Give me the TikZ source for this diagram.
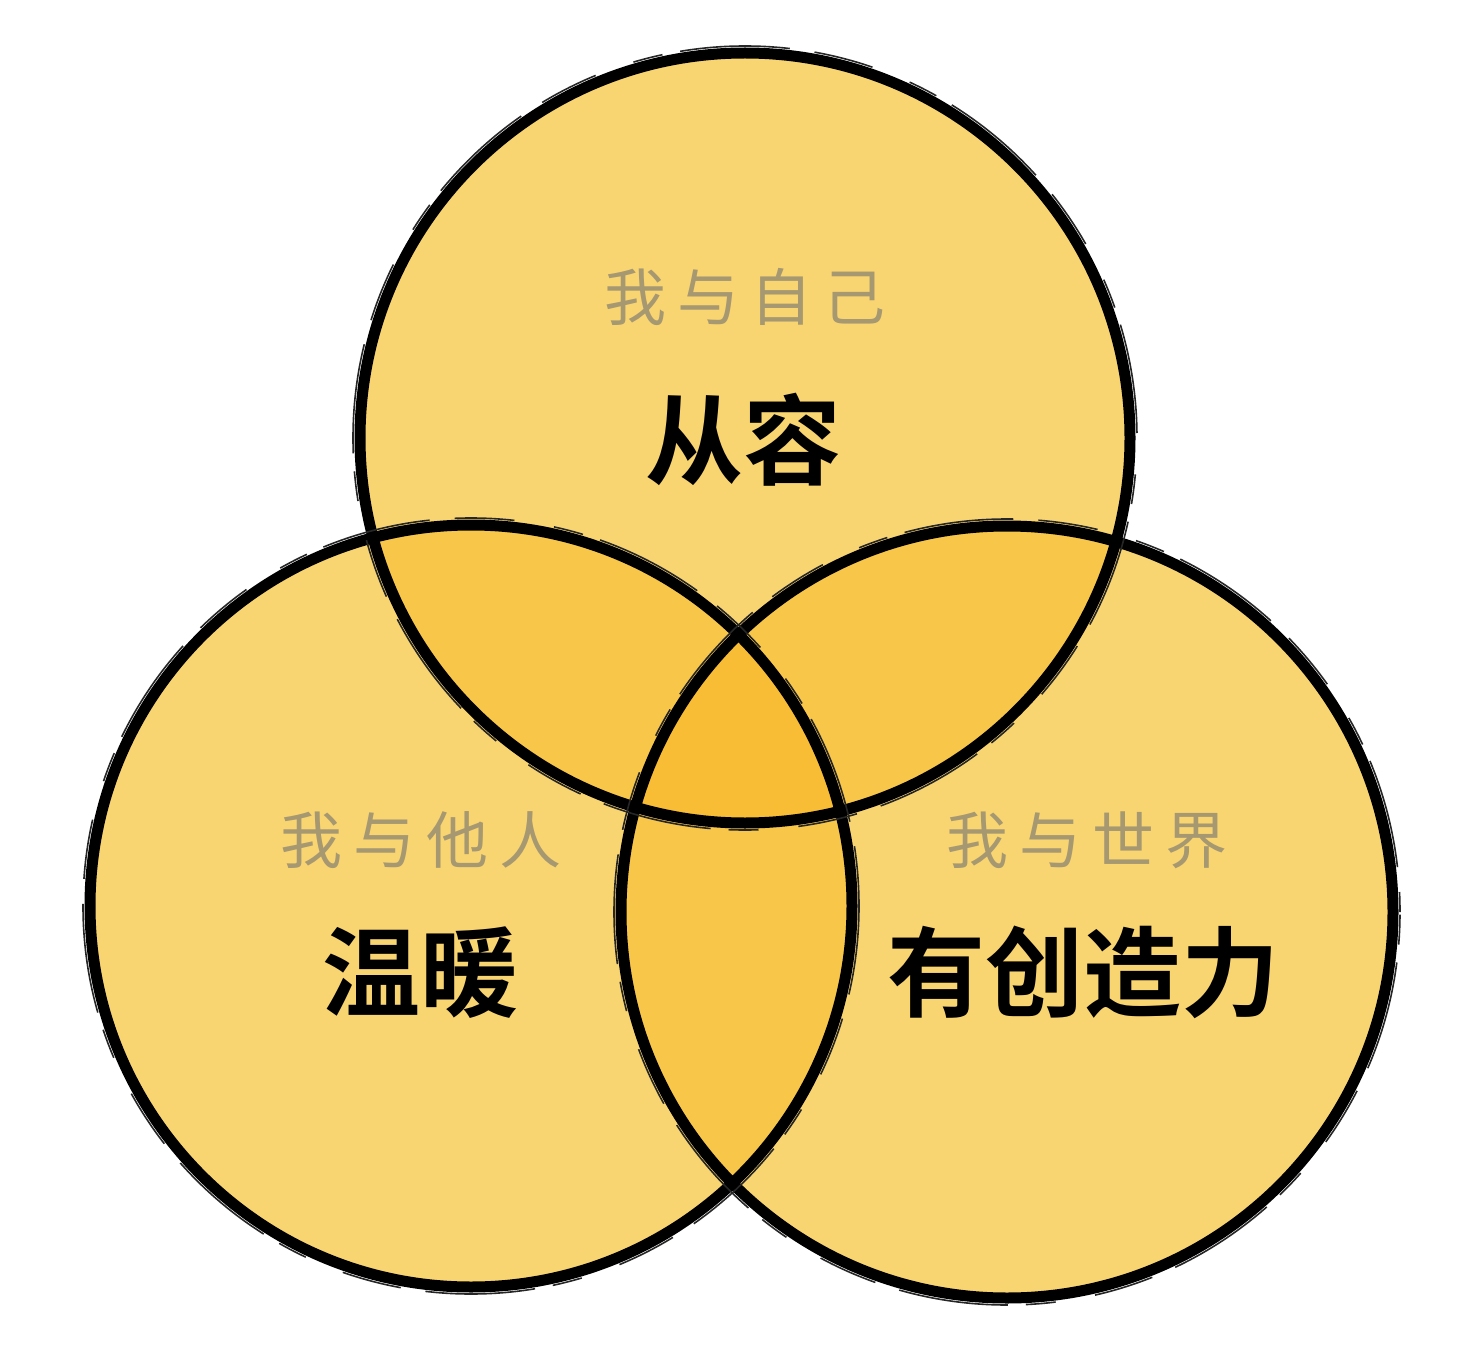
\documentclass[tikz,border=0pt]{standalone}
\usepackage{fontspec}
\newfontfamily\cjk{Noto Sans CJK SC}
\newfontfamily\cjkbold{Noto Sans CJK SC Bold}
\definecolor{cone}{RGB}{249,213,114}
\definecolor{ctwo}{RGB}{248,198,72}
\definecolor{cthree}{RGB}{248,189,52}
\definecolor{graytext}{RGB}{166,152,112}
\tikzset{
  ring/.style={draw=black, line width=11pt},
  ringsketch/.style={draw=black!85, line width=1.6pt, dash pattern=on 60pt off 25pt on 110pt off 18pt on 30pt off 40pt},
  subtitle/.style={text=graytext, font=\cjk\fontsize{62pt}{70pt}\selectfont, inner sep=0pt, anchor=center},
  title/.style={text=black, font=\cjkbold\fontsize{98pt}{110pt}\selectfont, inner sep=0pt, anchor=center}
}
\newcommand{\gs}{\hspace{11pt}}
\begin{document}
\begin{tikzpicture}[x=1pt,y=-1pt]
\useasboundingbox (0,0) rectangle (1470,1356);
\fill[white] (0,0) rectangle (1470,1356);
\coordinate (T) at (745,438);
\coordinate (L) at (471,906);
\coordinate (R) at (1007,912);
% base fills
\fill[cone] (T) circle[radius=385pt];
\fill[cone] (L) circle[radius=381pt];
\fill[cone] (R) circle[radius=386pt];
% pairwise overlaps
\begin{scope}
  \clip (L) circle[radius=381pt];
  \fill[ctwo] (R) circle[radius=386pt];
\end{scope}
\begin{scope}
  \clip (T) circle[radius=385pt];
  \fill[ctwo] (L) circle[radius=381pt];
  \fill[ctwo] (R) circle[radius=386pt];
  \clip (L) circle[radius=381pt];
  \fill[cthree] (R) circle[radius=386pt];
\end{scope}
% texts
\node[subtitle] (s1) at (745,297) {我\gs 与\gs 自\gs 己};
\node[title] (t1) at (743,440) {从容};
\node[subtitle] (s2) at (421,840) {我\gs 与\gs 他\gs 人};
\node[title] (t2) at (420,973) {温暖};
\node[subtitle] (s3) at (1087,840) {我\gs 与\gs 世\gs 界};
\node[title] (t3) at (1083,972) {有创造力};
% outlines
\draw[ring] (L) circle[radius=381pt];
\draw[ring] (R) circle[radius=386pt];
\draw[ring] (T) circle[radius=385pt];
\draw[ringsketch] (L) circle[radius=388pt];
\draw[ringsketch, dash phase=40pt] (R) circle[radius=393pt];
\draw[ringsketch, dash phase=80pt] (T) circle[radius=392pt];
\end{tikzpicture}
\end{document}
